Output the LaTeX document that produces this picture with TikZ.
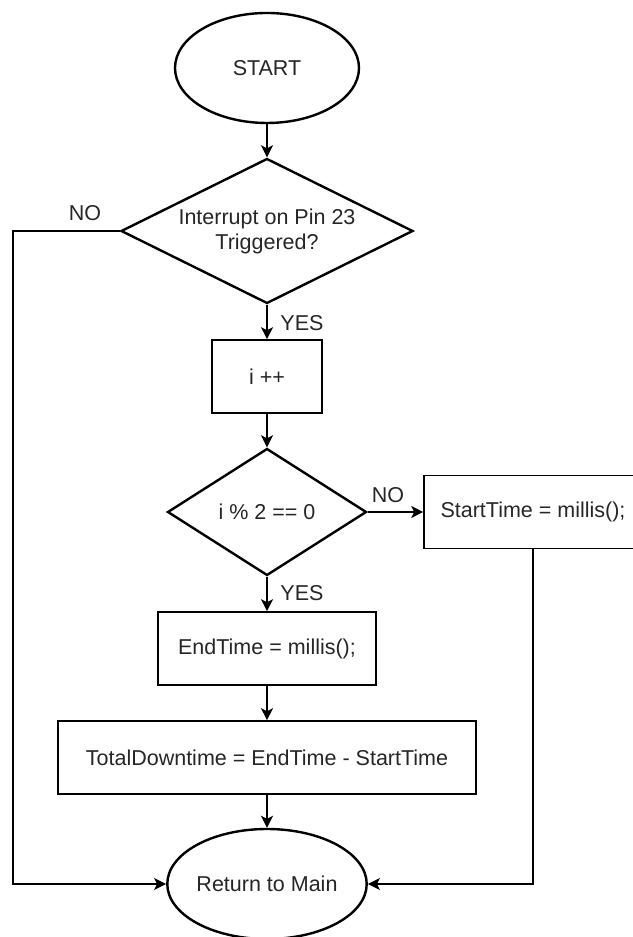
\documentclass[tikz,border=0pt]{standalone}
\usepackage{fontspec}
\setmainfont{Liberation Sans}
\usetikzlibrary{arrows.meta,shapes.geometric}

\begin{document}
\begin{tikzpicture}[
    x=1pt,
    y=1pt,
    font=\fontsize{21.5}{25}\selectfont,
    terminal/.style={ellipse, draw, line width=2.4pt, minimum width=184pt, minimum height=110pt, inner sep=0pt, text=black!85},
    decision/.style={diamond, draw, line width=2.4pt, inner sep=0pt, align=center, text=black!85},
    process/.style={rectangle, draw, line width=1.6pt, minimum height=73pt, inner sep=0pt, text=black!85},
    flow/.style={-{Stealth[length=12pt,width=12pt,inset=3pt]}, line width=1.5pt},
    lab/.style={inner sep=0pt, text=black!85}
  ]
    \useasboundingbox (0,0) rectangle (632,937);

    % shapes
    \node[terminal] (start) at (267,869) {START};
    \node[decision, aspect=2, minimum width=292pt, minimum height=145pt] (trig) at (267,706) {Interrupt on Pin 23\\Triggered?};
    \node[process, minimum width=110pt] (incr) at (267,560.5) {i ++};
    \node[decision, aspect=1.57, minimum width=199pt, minimum height=127pt] (even) at (267,425) {i \% 2 == 0};
    \node[process, minimum width=218pt] (tstart) at (533,425) {StartTime = millis();};
    \node[process, minimum width=218pt] (tend) at (267,288.5) {EndTime = millis();};
    \node[process, minimum width=418pt] (total) at (267,179.5) {TotalDowntime = EndTime - StartTime};
    \node[terminal] (ret) at (267,53) {Return to Main};
    \coordinate (bypass) at (13,706);

    % connectors
    \draw[flow] (start) -- (trig);
    \draw[flow] (trig) -- (incr);
    \draw[flow] (incr) -- (even);
    \draw[flow] (even) -- (tstart);
    \draw[flow] (even) -- (tend);
    \draw[flow] (tend) -- (total);
    \draw[flow] (total) -- (ret);
    \draw[flow] (trig.west) -- (bypass) |- (ret.west);
    \draw[flow] (tstart.south) |- (ret.east);

    % labels
    \node[lab] (no1) at (85,724) {NO};
    \node[lab] (yes1) at (302,614) {YES};
    \node[lab] (no2) at (388,442) {NO};
    \node[lab] (yes2) at (302,344) {YES};
  \end{tikzpicture}
\end{document}
